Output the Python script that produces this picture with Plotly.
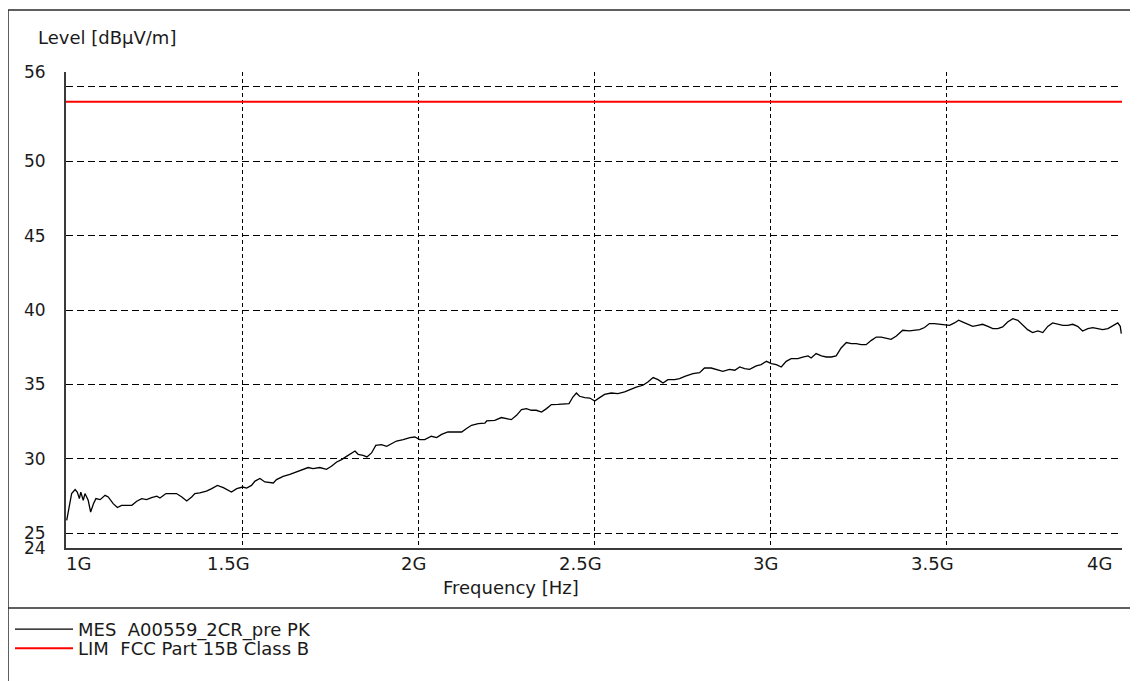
import plotly.graph_objects as go

# ---- data (frequency in GHz, level in dBµV/m) ----
freq_ghz = [
    1.002, 1.009, 1.016, 1.026, 1.032, 1.038, 1.042, 1.049, 1.054, 1.063, 1.070, 1.078, 1.085,
    1.097, 1.111, 1.120, 1.134, 1.146, 1.158, 1.172, 1.187, 1.201, 1.215, 1.229, 1.243, 1.258,
    1.267, 1.284, 1.300, 1.314, 1.329, 1.343, 1.357, 1.366, 1.380, 1.399, 1.414, 1.430, 1.447,
    1.456, 1.470, 1.485, 1.502, 1.513, 1.527, 1.537, 1.551, 1.565, 1.589,
    1.598, 1.617, 1.636, 1.655, 1.674, 1.688, 1.702, 1.721, 1.740, 1.754, 1.769, 1.783, 1.797,
    1.811, 1.821, 1.830, 1.844, 1.855, 1.868, 1.880, 1.896, 1.911, 1.925, 1.939, 1.958, 1.977,
    1.991, 2.005, 2.019, 2.038, 2.053, 2.067, 2.085, 2.104, 2.124, 2.138, 2.152, 2.171, 2.190,
    2.195, 2.218, 2.237, 2.251, 2.265, 2.280, 2.294, 2.308, 2.322, 2.336, 2.351, 2.365, 2.379,
    2.398, 2.417, 2.429, 2.440, 2.450, 2.459, 2.474, 2.488, 2.502, 2.516, 2.530, 2.549, 2.568,
    2.587, 2.601, 2.620, 2.639, 2.653, 2.668, 2.682, 2.696, 2.710, 2.729, 2.743, 2.758, 2.781,
    2.800, 2.814, 2.833, 2.848, 2.866, 2.885, 2.900, 2.914, 2.928, 2.942, 2.961, 2.975, 2.990,
    3.004, 3.018, 3.032, 3.046, 3.060, 3.079, 3.093, 3.108, 3.117, 3.131, 3.146, 3.160, 3.174,
    3.188, 3.202, 3.217, 3.231, 3.245, 3.259, 3.273, 3.288, 3.302, 3.316, 3.330, 3.344, 3.359,
    3.377, 3.396, 3.411, 3.425, 3.439, 3.453, 3.467, 3.482, 3.496, 3.510, 3.524, 3.536, 3.548,
    3.562, 3.576, 3.590, 3.604, 3.619, 3.633, 3.647, 3.661, 3.675, 3.690, 3.704, 3.718, 3.732,
    3.746, 3.761, 3.775, 3.789, 3.803, 3.817, 3.832, 3.846, 3.860, 3.874, 3.888, 3.903, 3.917,
    3.931, 3.945, 3.960, 3.974, 3.988, 3.995, 3.998,
]
level_mes = [
    25.86, 26.76, 27.66, 27.93, 27.76, 27.32, 27.76, 27.21, 27.66, 27.21, 26.42, 26.98, 27.32,
    27.25, 27.54, 27.43, 26.98, 26.72, 26.87, 26.87, 26.87, 27.14, 27.32, 27.25, 27.39, 27.48,
    27.36, 27.66, 27.66, 27.66, 27.43, 27.16, 27.43, 27.66, 27.70, 27.83, 27.99, 28.21, 28.06,
    27.93, 27.76, 27.99, 28.10, 28.03, 28.21, 28.50, 28.67, 28.44, 28.37,
    28.60, 28.82, 28.95, 29.11, 29.29, 29.41, 29.34, 29.41, 29.29, 29.49, 29.78, 29.94, 30.16,
    30.39, 30.52, 30.30, 30.23, 30.12, 30.39, 30.90, 30.95, 30.84, 31.02, 31.19, 31.29, 31.42,
    31.46, 31.29, 31.29, 31.51, 31.42, 31.64, 31.80, 31.80, 31.80, 32.03, 32.25, 32.36, 32.40,
    32.54, 32.58, 32.77, 32.70, 32.63, 32.92, 33.30, 33.37, 33.26, 33.26, 33.14, 33.37, 33.64,
    33.66, 33.66, 33.71, 34.15, 34.42, 34.20, 34.11, 34.08, 33.88, 34.11, 34.33, 34.42, 34.38,
    34.49, 34.65, 34.82, 34.94, 35.16, 35.46, 35.32, 35.09, 35.32, 35.32, 35.39, 35.54, 35.72,
    35.79, 36.10, 36.10, 36.01, 35.88, 36.01, 35.95, 36.17, 36.06, 36.01, 36.24, 36.33, 36.55,
    36.40, 36.33, 36.17, 36.55, 36.73, 36.73, 36.84, 36.91, 36.77, 37.07, 36.91, 36.84, 36.84,
    36.91, 37.45, 37.81, 37.74, 37.74, 37.67, 37.67, 37.96, 38.18, 38.18, 38.12, 38.03, 38.25,
    38.64, 38.59, 38.64, 38.68, 38.82, 39.09, 39.09, 39.04, 39.04, 38.97, 39.13, 39.31, 39.19,
    39.04, 38.90, 38.97, 39.04, 38.90, 38.75, 38.75, 38.86, 39.19, 39.42, 39.31, 38.97, 38.68,
    38.48, 38.59, 38.48, 38.90, 39.13, 39.04, 38.97, 38.97, 39.04, 38.90, 38.59, 38.75, 38.82,
    38.75, 38.68, 38.75, 38.97, 39.13, 38.90, 38.41,
]
limit_freq_ghz = [1.0, 4.0]
limit_level = [54.0, 54.0]

x_tick_vals_ghz = [1.0, 1.5, 2.0, 2.5, 3.0, 3.5, 4.0]
x_tick_text = ["1G", "1.5G", "2G", "2.5G", "3G", "3.5G", "4G"]
y_tick_vals = [24, 25, 30, 35, 40, 45, 50, 55, 56]
y_tick_text = ["24", "25", "30", "35", "40", "45", "50", "", "56"]

mes_name = "MES\u00a0 A00559_2CR_pre PK"
lim_name = "LIM\u00a0 FCC Part 15B Class B"

FONT = "DejaVu Sans"
TXT = "#1a1a1a"
FS = 18

# The page body adds an 8px margin, so the figure is 8px smaller and every
# reference pixel position is shifted by (-8, -8).
OFF = 8
W, H = 1138 - OFF, 681 - OFF
ML, MR, MT, MB = 58, 16, 64, 133
PW, PH = W - ML - MR, H - MT - MB


def fx(px):  # reference screen x -> paper
    return (px - OFF - ML) / PW


def fy(py):  # reference screen y -> paper
    return (H - MB - (py - OFF)) / PH


fig = go.Figure()
fig.add_trace(go.Scatter(
    x=[f * 1e9 for f in freq_ghz], y=level_mes, mode="lines", name=mes_name,
    line=dict(color="black", width=1.3), legend="legend",
))
fig.add_trace(go.Scatter(
    x=[f * 1e9 for f in limit_freq_ghz], y=limit_level, mode="lines", name=lim_name,
    line=dict(color="#ff0000", width=2), legend="legend2",
))

leg_common = dict(
    xanchor="left", yanchor="top", bgcolor="rgba(0,0,0,0)", borderwidth=0,
    font=dict(family=FONT, size=FS, color=TXT), itemwidth=58,
)

fig.update_layout(
    width=W, height=H,
    margin=dict(l=ML, r=MR, t=MT, b=MB, autoexpand=False),
    paper_bgcolor="white", plot_bgcolor="white",
    font=dict(family=FONT, size=FS, color=TXT),
    showlegend=True,
    legend=dict(x=fx(10), y=fy(629 - 18), **leg_common),
    legend2=dict(x=fx(10), y=fy(648 - 18), **leg_common),
    xaxis=dict(
        type="linear", range=[1e9, 4e9],
        tickvals=[v * 1e9 for v in x_tick_vals_ghz], showticklabels=False,
        showgrid=True, gridcolor="black", gridwidth=1, griddash="4px,3px",
        showline=True, linecolor="#3a3a3a", linewidth=2,
        ticks="", zeroline=False,
    ),
    yaxis=dict(
        range=[24, 56],
        tickvals=y_tick_vals, ticktext=y_tick_text,
        showgrid=True, gridcolor="black", gridwidth=1, griddash="7px,4px",
        showline=True, linecolor="#3a3a3a", linewidth=2,
        ticks="", ticklabelstandoff=15, zeroline=False,
        tickfont=dict(family=FONT, size=17, color=TXT),
    ),
)

annotations = []
for v, t in zip(x_tick_vals_ghz, x_tick_text):
    if v == x_tick_vals_ghz[0]:
        anchor, shift = "left", -2
    elif v == x_tick_vals_ghz[-1]:
        anchor, shift = "right", -8
    else:
        anchor, shift = "right", 10
    annotations.append(dict(
        x=v * 1e9, xref="x", y=fy(563), yref="paper", text=t, showarrow=False,
        xanchor=anchor, yanchor="middle", xshift=shift,
        font=dict(family=FONT, size=FS, color=TXT),
    ))
annotations.append(dict(
    x=fx(511), xref="paper", y=fy(587), yref="paper", text="Frequency [Hz]",
    showarrow=False, xanchor="center", yanchor="middle",
    font=dict(family=FONT, size=FS, color=TXT),
))
annotations.append(dict(
    x=fx(36), xref="paper", y=fy(37), yref="paper", text="Level [dBµV/m]",
    showarrow=False, xanchor="left", yanchor="middle",
    font=dict(family=FONT, size=FS, color=TXT),
))
fig.update_layout(annotations=annotations)

frame = dict(color="#2a2a2a", width=1.5)
fig.update_layout(shapes=[
    dict(type="line", xref="paper", yref="paper", x0=fx(8), x1=fx(1150), y0=fy(10), y1=fy(10), line=frame),
    dict(type="line", xref="paper", yref="paper", x0=fx(8), x1=fx(8), y0=fy(10), y1=fy(690), line=frame),
    dict(type="line", xref="paper", yref="paper", x0=fx(8), x1=fx(1150), y0=fy(608), y1=fy(608), line=frame),
])

fig.write_html("out.html")
